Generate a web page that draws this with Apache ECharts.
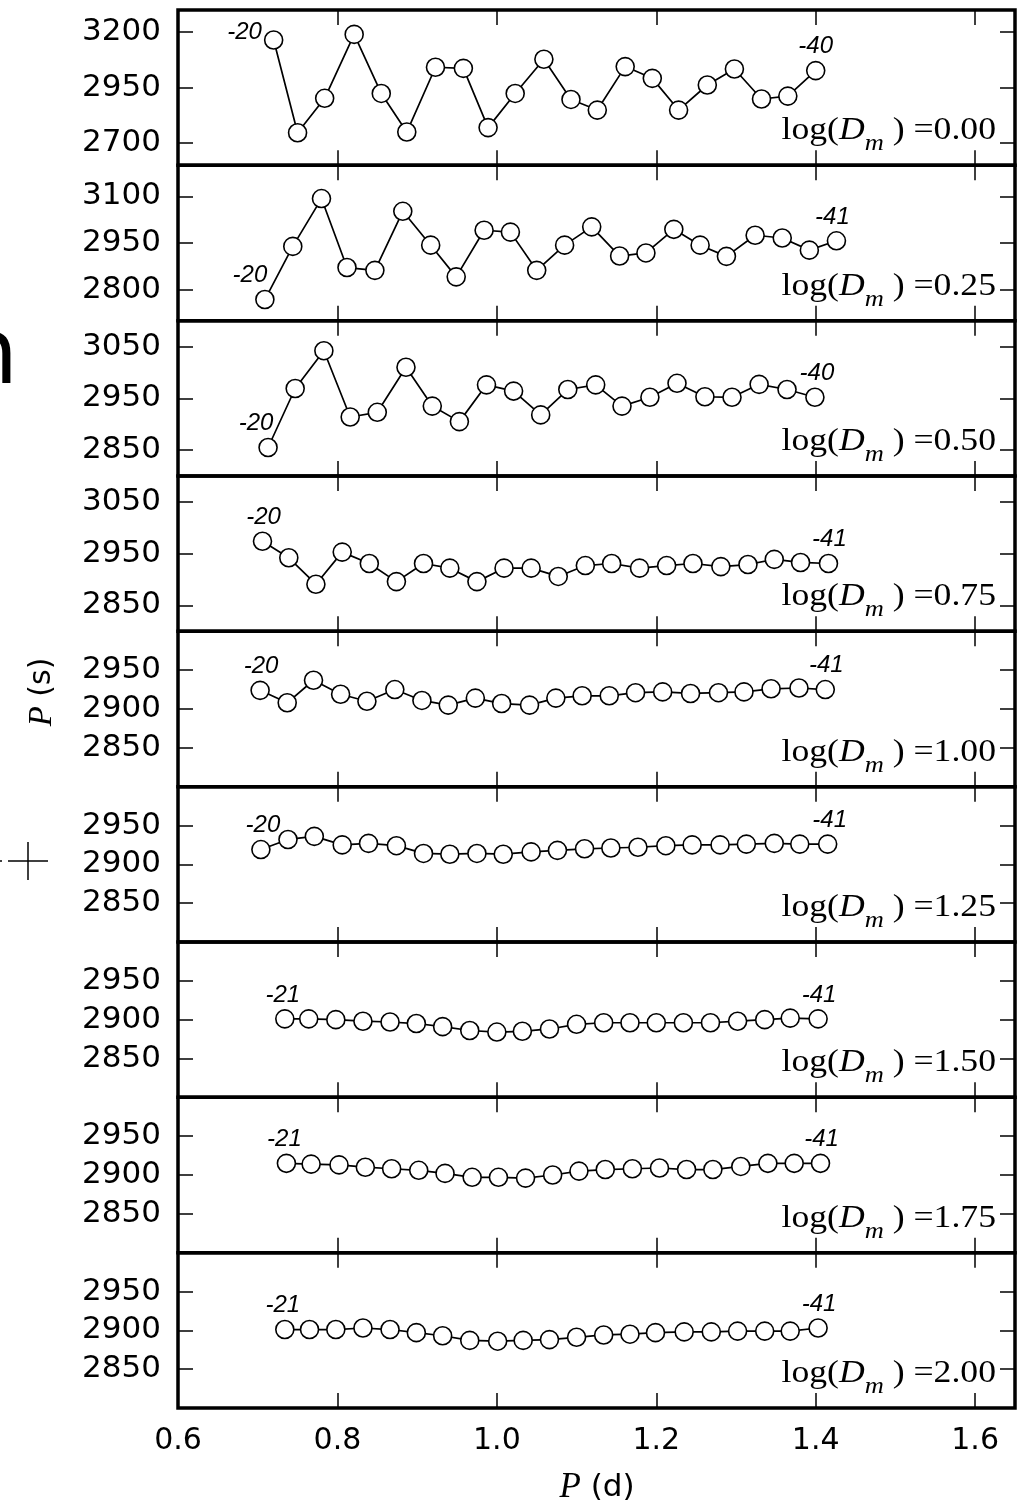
<!DOCTYPE html>
<html>
<head>
<meta charset="utf-8">
<script src="https://cdn.jsdelivr.net/npm/echarts@6/dist/echarts.min.js"></script>
<style>html,body{margin:0;padding:0;background:#fff}#c{width:1025px;height:1507px}</style>
</head>
<body>
<div id="c"></div>
<script>
// ---------- data (periods in days, periods in seconds) ----------
const logDm = ['0.00','0.25','0.50','0.75','1.00','1.25','1.50','1.75','2.00'];
const firstMode = ['-20','-20','-20','-20','-20','-20','-21','-21','-21'];
const lastMode  = ['-40','-41','-40','-41','-41','-41','-41','-41','-41'];
const xTicks = [0.6, 0.8, 1.0, 1.2, 1.4, 1.6];
const yTicks0 = [2700, 2950, 3200];
const yTicks1 = [2800, 2950, 3100];
const yTicks2 = [2850, 2950, 3050];
const yTicks3 = [2850, 2950, 3050];
const yTicks4 = [2850, 2900, 2950];
const yTicks5 = [2850, 2900, 2950];
const yTicks6 = [2850, 2900, 2950];
const yTicks7 = [2850, 2900, 2950];
const yTicks8 = [2850, 2900, 2950];

const pd0 = [0.720,0.750,0.784,0.821,0.855,0.887,0.923,0.958,0.989,1.023,1.059,1.093,1.126,1.161,1.195,1.228,1.264,1.298,1.332,1.365,1.400];
const ps0 = [3165,2747,2902,3190,2924,2750,3042,3037,2770,2924,3078,2897,2849,3045,2992,2849,2962,3034,2899,2912,3027];
const pd1 = [0.709,0.744,0.780,0.812,0.847,0.882,0.917,0.949,0.984,1.017,1.050,1.085,1.119,1.154,1.187,1.222,1.255,1.288,1.324,1.358,1.392,1.426];
const ps1 = [2768,2939,3093,2871,2862,3052,2943,2841,2991,2985,2862,2943,3002,2908,2918,2994,2943,2907,2975,2966,2927,2957];
const pd2 = [0.713,0.747,0.783,0.816,0.850,0.886,0.919,0.953,0.987,1.021,1.055,1.089,1.124,1.157,1.192,1.226,1.261,1.295,1.329,1.364,1.399];
const ps2 = [2855,2969,3042,2914,2923,3010,2935,2905,2976,2964,2918,2967,2976,2935,2952,2979,2953,2952,2977,2967,2952];
const pd3 = [0.706,0.739,0.773,0.806,0.840,0.874,0.908,0.941,0.975,1.009,1.043,1.077,1.111,1.144,1.179,1.213,1.246,1.281,1.315,1.348,1.381,1.416];
const ps3 = [2974,2942,2891,2953,2931,2896,2931,2922,2896,2922,2922,2906,2927,2931,2922,2927,2931,2925,2929,2939,2933,2931];
const pd4 = [0.703,0.737,0.770,0.804,0.837,0.872,0.906,0.939,0.973,1.006,1.041,1.074,1.107,1.141,1.174,1.208,1.243,1.278,1.310,1.344,1.379,1.412];
const ps4 = [2924,2908,2937,2919,2910,2925,2911,2905,2914,2907,2905,2914,2917,2917,2921,2922,2920,2921,2922,2926,2927,2925];
const pd5 = [0.704,0.738,0.771,0.806,0.839,0.874,0.908,0.941,0.975,1.008,1.043,1.076,1.110,1.143,1.177,1.212,1.245,1.280,1.313,1.348,1.380,1.415];
const ps5 = [2919,2932,2936,2925,2927,2924,2914,2913,2914,2913,2916,2918,2920,2921,2922,2924,2925,2925,2926,2927,2926,2926];
const pd6 = [0.734,0.764,0.798,0.832,0.866,0.899,0.932,0.966,1.000,1.032,1.066,1.100,1.134,1.167,1.200,1.234,1.268,1.302,1.336,1.368,1.403];
const ps6 = [2901,2901,2900,2898,2897,2895,2891,2886,2884,2885,2888,2894,2896,2896,2896,2896,2896,2898,2900,2902,2901];
const pd7 = [0.736,0.767,0.802,0.835,0.868,0.902,0.935,0.969,1.002,1.036,1.070,1.103,1.136,1.170,1.204,1.238,1.271,1.306,1.340,1.373,1.406];
const ps7 = [2915,2914,2913,2910,2908,2906,2902,2897,2897,2896,2900,2905,2907,2908,2909,2907,2907,2911,2915,2915,2915];
const pd8 = [0.734,0.765,0.798,0.832,0.866,0.899,0.932,0.966,1.001,1.033,1.066,1.100,1.134,1.167,1.199,1.235,1.269,1.302,1.336,1.368,1.403];
const ps8 = [2901,2901,2901,2903,2901,2897,2893,2887,2886,2887,2888,2891,2894,2895,2897,2898,2898,2899,2899,2899,2903];

// ---------- layout ----------
const PD = [pd0,pd1,pd2,pd3,pd4,pd5,pd6,pd7,pd8];
const PS = [ps0,ps1,ps2,ps3,ps4,ps5,ps6,ps7,ps8];
const YT = [yTicks0,yTicks1,yTicks2,yTicks3,yTicks4,yTicks5,yTicks6,yTicks7,yTicks8];
const yRange = [[2600,3300],[2700,3200],[2800,3100],[2800,3100],[2800,3000],[2800,3000],[2800,3000],[2800,3000],[2800,3000]];
const firstLab = [
  {position:'left', offset:[0,-8]},
  {position:'top', offset:[-15,0]},
  {position:'top', offset:[-12,0]},
  {position:'top', offset:[1,0]},
  {position:'top', offset:[1,0]},
  {position:'top', offset:[2,0]},
  {position:'top', offset:[-2,0]},
  {position:'top', offset:[-2,0]},
  {position:'top', offset:[-2,0]}
];
const lastOff = [[0,0],[-4,0],[2,0],[1,0],[1,0],[2,0],[1,0],[1,0],[1,0]];

const LEFT = 178, WIDTH = 837, TOP = 10, H = 155.33;
const labFont = {fontFamily:'Liberation Sans', fontStyle:'italic', fontSize:24, color:'#000', distance:2};
const tickStyle = {color:'#000', width:1.5};

const grids = [], xAxes = [], yAxes = [], series = [], graphics = [];
for (let i = 0; i < 9; i++) {
  grids.push({left:LEFT, top:TOP + i*H, width:WIDTH, height:H, show:true,
    borderColor:'#000', borderWidth:3.5, backgroundColor:'transparent', outerBoundsMode:'none', containLabel:false});
  const xa = (pos, labels) => ({type:'value', gridIndex:i, min:0.6, max:1.65, position:pos,
    axisLine:{show:false}, splitLine:{show:false},
    axisTick:{show:true, inside:true, length:15, lineStyle:tickStyle, customValues:xTicks},
    axisLabel:{show:labels, customValues:xTicks, formatter:v=>Number(v).toFixed(1),
      fontFamily:'DejaVu Sans', fontSize:30, color:'#000', margin:18}});
  xAxes.push(xa('bottom', i === 8));
  xAxes.push(xa('top', false));
  const ya = (pos, labels) => ({type:'value', gridIndex:i, min:yRange[i][0], max:yRange[i][1], position:pos,
    axisLine:{show:false}, splitLine:{show:false},
    axisTick:{show:true, inside:true, length:15, lineStyle:tickStyle, customValues:YT[i]},
    axisLabel:{show:labels, customValues:YT[i], formatter:v=>String(Math.round(v)),
      fontFamily:'DejaVu Sans', fontSize:31, color:'#000', margin:17}});
  yAxes.push(ya('left', true));
  yAxes.push(ya('right', false));

  const n = PD[i].length;
  const data = PD[i].map((x, k) => {
    if (k === 0) return {value:[x, PS[i][k]], label:Object.assign({show:true, formatter:firstMode[i]}, labFont, firstLab[i])};
    if (k === n-1) return {value:[x, PS[i][k]], label:Object.assign({show:true, formatter:lastMode[i], position:'top', offset:lastOff[i]}, labFont)};
    return [x, PS[i][k]];
  });
  series.push({type:'line', xAxisIndex:2*i, yAxisIndex:2*i, data:data, symbol:'circle', symbolSize:18,
    showAllSymbol:true, itemStyle:{color:'#fff', borderColor:'#000', borderWidth:1.6},
    lineStyle:{color:'#000', width:1.7}, emphasis:{disabled:true}, z:3, clip:false});

  const bottom = TOP + (i+1)*H;
  graphics.push({type:'text', x:996, y:bottom - 34, scaleX:1.15, z:10, style:{
    text:'{r|log(}{i|D}{s|m}{r| ) =' + logDm[i] + '}', align:'right', verticalAlign:'middle',
    rich:{
      r:{fontFamily:'Liberation Serif', fontSize:31, fill:'#000', color:'#000'},
      i:{fontFamily:'Liberation Serif', fontStyle:'italic', fontSize:31, fill:'#000', color:'#000'},
      s:{fontFamily:'Liberation Serif', fontStyle:'italic', fontSize:23, fill:'#000', color:'#000', padding:[26,0,0,0]}
    }}});
}

// axis titles
graphics.push({type:'text', x:597, y:1488, z:10, style:{
  text:'{i|P}{n| (d)}', align:'center', verticalAlign:'middle',
  rich:{i:{fontFamily:'Liberation Serif', fontStyle:'italic', fontSize:35, fill:'#000', color:'#000'},
        n:{fontFamily:'DejaVu Sans', fontSize:31, fill:'#000', color:'#000'}}}});
graphics.push({type:'text', x:42, y:692, rotation:Math.PI/2, z:10, style:{
  text:'{i|P}{n| (s)}', align:'center', verticalAlign:'middle',
  rich:{i:{fontFamily:'Liberation Serif', fontStyle:'italic', fontSize:33, fill:'#000', color:'#000'},
        n:{fontFamily:'DejaVu Sans', fontSize:30, fill:'#000', color:'#000'}}}});
// cropped fragments from neighbouring figure at the left edge
graphics.push({type:'text', x:-39, y:360, z:10, style:{text:'n', fontFamily:'DejaVu Sans', fontSize:90, fill:'#000', align:'left', verticalAlign:'middle'}});
graphics.push({type:'line', z:10, shape:{x1:8, y1:861, x2:48, y2:861}, style:{stroke:'#000', lineWidth:1.5}});
graphics.push({type:'line', z:10, shape:{x1:28, y1:842, x2:28, y2:880}, style:{stroke:'#000', lineWidth:1.5}});
graphics.push({type:'circle', z:10, shape:{cx:1, cy:861, r:1}, style:{fill:'#000'}});

const chart = echarts.init(document.getElementById('c'), null, {renderer:'canvas'});
chart.setOption({
  animation:false,
  backgroundColor:'#fff',
  grid:grids, xAxis:xAxes, yAxis:yAxes, series:series, graphic:graphics
});
</script>
</body>
</html>
